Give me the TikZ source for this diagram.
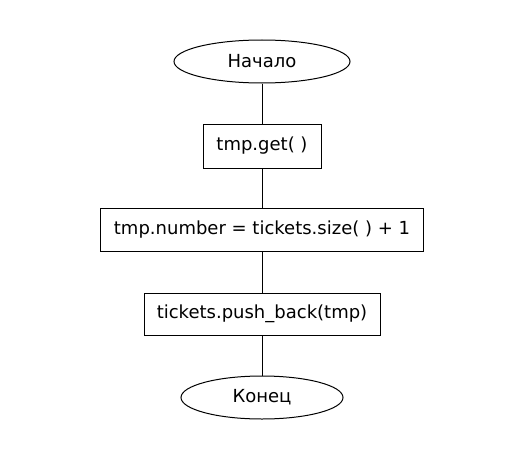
\documentclass[tikz,border=0pt]{standalone}
\usepackage{fontspec}
\setmainfont{DejaVu Sans}
\usetikzlibrary{shapes.geometric}
\begin{document}
\begin{tikzpicture}[x=1pt,y=-1pt,
  base/.style={draw=black, line width=1pt, font=\fontsize{18}{21}\selectfont, inner sep=0pt},
  term/.style={base, ellipse},
  proc/.style={base, rectangle},
  conn/.style={draw=black, line width=1pt}]
\useasboundingbox (0,0) rectangle (524,460);
\node[term, minimum width=176, minimum height=43] (start) at (262,61.5) {Начало};
\node[proc, minimum width=118, minimum height=44] (get) at (262,146) {tmp.get( )};
\node[proc, minimum width=323, minimum height=43] (num) at (262,229.5) {tmp.number = tickets.size( ) + 1};
\node[proc, minimum width=236, minimum height=42] (push) at (262,314) {tickets.push\_back(tmp)};
\node[term, minimum width=162, minimum height=43] (end) at (262,397.5) {Конец};
\draw[conn] (start) -- (get);
\draw[conn] (get) -- (num);
\draw[conn] (num) -- (push);
\draw[conn] (push) -- (end);
\end{tikzpicture}
\end{document}
